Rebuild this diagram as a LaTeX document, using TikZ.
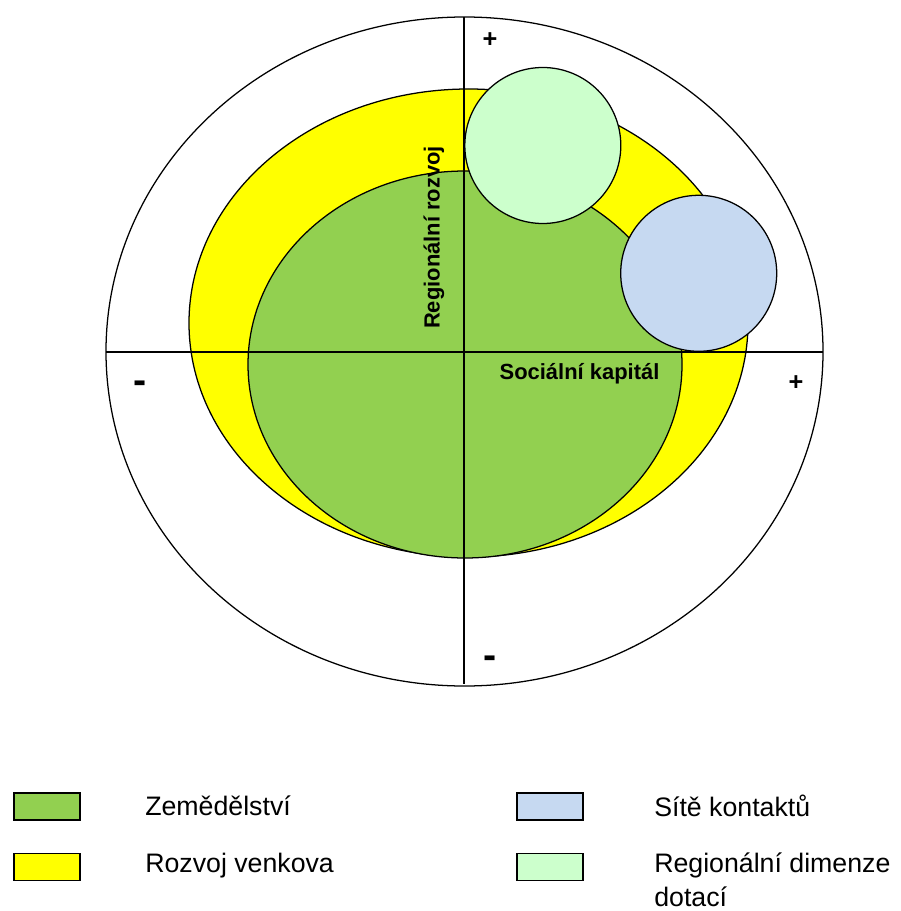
\documentclass[tikz,border=0pt]{standalone}
\usepackage{fontspec}
\setmainfont{Liberation Sans}
\definecolor{zemedelstvi}{HTML}{92D050}
\definecolor{venkov}{HTML}{FFFF00}
\definecolor{site}{HTML}{C6D9F1}
\definecolor{dotace}{HTML}{CCFFCC}
\begin{document}
\begin{tikzpicture}[x=0.025cm,y=0.025cm,
    area/.style={draw=black,line width=0.9pt},
    axislabel/.style={inner sep=0pt,font=\fontsize{15.6}{18}\selectfont\bfseries},
    sign/.style={inner sep=0pt,font=\fontsize{18}{20}\selectfont\bfseries},
    minussign/.style={inner sep=0pt,font=\fontsize{28}{30}\selectfont\bfseries},
    legendbox/.style={draw=black,line width=0.9pt,minimum width=1.65cm,minimum height=0.675cm,inner sep=0pt},
    legendtext/.style={anchor=west,inner sep=0pt,align=left,font=\fontsize{19}{24.2}\selectfont}]
  \useasboundingbox (0,0) rectangle (900,-911);
  \draw[area,fill=white] (464.5,-351.5) ellipse [x radius=358.5,y radius=334.5];
  \draw[area,fill=venkov] (468.5,-323) ellipse [x radius=279.5,y radius=234];
  \draw[area,fill=zemedelstvi] (465,-364.5) ellipse [x radius=217,y radius=193.5];
  \coordinate (top) at (464,-17);
  \coordinate (bottom) at (464,-684);
  \coordinate (left) at (106,-352);
  \coordinate (right) at (823,-352);
  \begin{scope}[line width=0.9pt]
    \draw (top) -- (bottom);
    \draw (left) -- (right);
  \end{scope}
  \draw[area,fill=dotace] (542.8,-145.5) circle [radius=78];
  \draw[area,fill=site] (698.7,-273.3) circle [radius=78];
  \node[axislabel,rotate=90] (regrozvoj) at (434,-237.5) {Regionální rozvoj};
  \node[axislabel] (sockapital) at (579.5,-374) {Sociální kapitál};
  \node[sign] (plustop) at (490,-40) {+};
  \node[minussign] (minusleft) at (140,-387) {-};
  \node[sign] (plusright) at (796,-383) {+};
  \node[minussign] (minusbottom) at (490,-662) {-};
  \node[legendbox,fill=zemedelstvi] (boxzem) at (47,-806.5) {};
  \node[legendbox,fill=venkov] (boxven) at (47,-867) {};
  \node[legendbox,fill=site] (boxsit) at (550,-806.5) {};
  \node[legendbox,fill=dotace] (boxdot) at (550,-867) {};
  \node[legendtext] (textzem) at (145,-806) {Zemědělství};
  \node[legendtext] (textven) at (145,-866) {Rozvoj venkova};
  \node[legendtext] (textsit) at (654,-806) {Sítě kontaktů};
  \node[legendtext,anchor=north west] (textdot) at (654,-853) {Regionální dimenze\\dotací};
\end{tikzpicture}
\end{document}
